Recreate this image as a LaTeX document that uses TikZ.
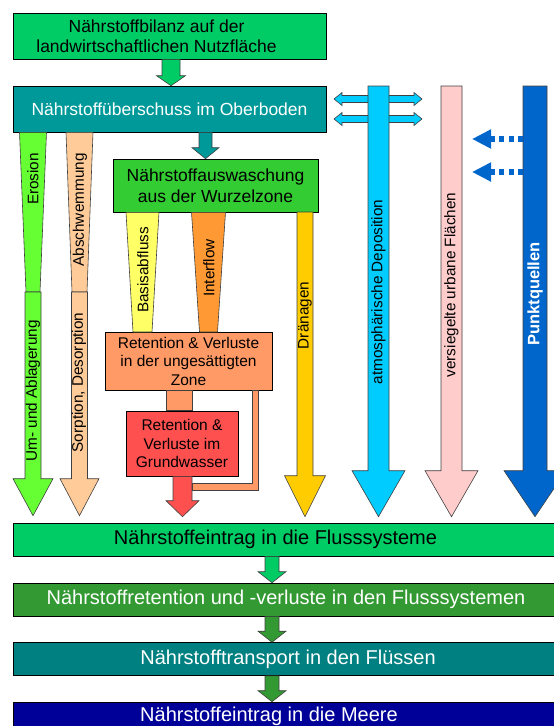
\documentclass[tikz,border=0pt]{standalone}
\usepackage{fontspec}
\setmainfont{Liberation Sans}
\usepackage{tikz}
\usetikzlibrary{arrows.meta,calc}
\definecolor{nbgreen}{RGB}{0,204,102}
\definecolor{nbteal}{RGB}{0,153,153}
\definecolor{nbleaf}{RGB}{51,204,51}
\definecolor{nberosion}{RGB}{102,255,51}
\definecolor{nbpeach}{RGB}{255,204,153}
\definecolor{nbyellow}{RGB}{255,255,102}
\definecolor{nborange}{RGB}{255,153,51}
\definecolor{nbsalmon}{RGB}{255,153,102}
\definecolor{nbred}{RGB}{255,80,80}
\definecolor{nbgold}{RGB}{255,204,0}
\definecolor{nbsky}{RGB}{0,204,255}
\definecolor{nbpink}{RGB}{255,204,204}
\definecolor{nbblue}{RGB}{0,102,204}
\definecolor{nbforest}{RGB}{51,153,51}
\definecolor{nbsea}{RGB}{0,128,128}
\definecolor{nbnavy}{RGB}{0,0,153}
\tikzset{
  fbox/.style={draw, line width=0.6pt, fill=#1, inner sep=0pt, align=center,
               font=\fontsize{17.5}{20}\selectfont},
  sbox/.style={draw, line width=0.6pt, fill=#1, inner sep=0pt, align=center,
               font=\fontsize{15.5}{18.5}\selectfont},
  rbox/.style={draw, line width=0.6pt, fill=#1, inner sep=0pt,
               minimum width=567pt, minimum height=33pt},
  rtext/.style={font=\fontsize{20}{24}\selectfont, text=#1},
  vtext/.style={rotate=90, inner sep=0pt, font=\fontsize{15.3}{18}\selectfont},
  flow/.style={draw=black!75, line width=0.6pt, fill=#1},
  block/.style n args={3}{to path={let \p1=(\tikztostart), \p2=(\tikztotarget) in
      (\x1-#1,\y1) -- (\x1-#1,\y2+#3) -- (\x1-#2,\y2+#3) -- (\x1,\y2)
      -- (\x1+#2,\y2+#3) -- (\x1+#1,\y2+#3) -- (\x1+#1,\y1) -- cycle}},
  taper/.style 2 args={to path={let \p1=(\tikztostart), \p2=(\tikztotarget) in
      (\x1-#1,\y1) -- (\x2-#2,\y2) -- (\x2+#2,\y2) -- (\x1+#1,\y1) -- cycle}},
  twoway/.style={to path={let \p1=(\tikztostart), \p2=(\tikztotarget) in
      (\x1,\y1) -- (\x1+8pt,\y1+6.5pt) -- (\x1+8pt,\y1+3.5pt) -- (\x2-8pt,\y1+3.5pt)
      -- (\x2-8pt,\y1+6.5pt) -- (\x2,\y1) -- (\x2-8pt,\y1-6.5pt) -- (\x2-8pt,\y1-3.5pt)
      -- (\x1+8pt,\y1-3.5pt) -- (\x1+8pt,\y1-6.5pt) -- cycle}},
  feed/.style={draw=nbblue, line width=5.5pt, dash pattern=on 5pt off 4.5pt,
               -{Triangle[length=19pt,width=18pt]}},
}
\begin{document}
\begin{tikzpicture}[x=1pt, y=-1pt]
\useasboundingbox (0,0) rectangle (554,726);
\clip (0,0) rectangle (554,726);

% Top: balance, topsoil surplus, root zone
\node[fbox=nbgreen, minimum width=313pt, minimum height=46pt] (bilanz) at (169.5,36)
  {\hspace*{-26pt}Nährstoffbilanz auf der\\\hspace*{-26pt}landwirtschaftlichen Nutzfläche};
\node[fbox=nbteal, text=white, minimum width=313pt, minimum height=46pt] (oberboden) at (169.5,109)
  {Nährstoffüberschuss im Oberboden};
\node[fbox=nbleaf, minimum width=205pt, minimum height=53pt, font=\fontsize{17.5}{21}\selectfont] (wurzel) at (215.5,185.5)
  {Nährstoffauswaschung\\aus der Wurzelzone};
\node[sbox=nbsalmon, minimum width=167pt, minimum height=58pt] (ungesaettigt) at (188.5,361)
  {Retention \& Verluste\\in der ungesättigten\\Zone};
\node[sbox=nbred, minimum width=112pt, minimum height=65pt] (grundwasser) at (182,443.5)
  {Retention \&\\Verluste im\\Grundwasser};

% Bottom chain
\node[rbox=nbgreen, label={[rtext=black, xshift=-21pt]center:Nährstoffeintrag in die Flusssysteme}] (eintrag) at (296.5,539.5) {};
\node[rbox=nbforest, label={[rtext=white, xshift=-10.5pt]center:Nährstoffretention und -verluste in den Flusssystemen}] (flussret) at (296.5,599.5) {};
\node[rbox=nbsea, label={[rtext=white, xshift=-8.5pt]center:Nährstofftransport in den Flüssen}] (transport) at (296.5,659) {};
\node[rbox=nbnavy, label={[rtext=white, xshift=-27.5pt, yshift=2.5pt]center:Nährstoffeintrag in die Meere}] (meere) at (296.5,718.5) {};

\coordinate (washx) at ([xshift=-10pt]wurzel.north);
\draw[flow=nbgreen, block={9pt}{14.5pt}{10pt}] ([xshift=1.5pt]bilanz.south) to ([xshift=1.5pt]oberboden.north);
\draw[flow=nbteal, block={6.5pt}{13.5pt}{11pt}] (washx |- oberboden.south) to (washx);

% Left: erosion and wash-off
\coordinate (ero) at (33,292);
\coordinate (absch) at (79.5,292);
\draw[flow=nberosion, taper={13.5pt}{7pt}] (oberboden.south -| ero) to (ero);
\draw[flow=nberosion, block={8pt}{20pt}{37pt}] (ero) to ([yshift=7pt]eintrag.north -| ero);
\draw[flow=nbpeach, taper={13.5pt}{7.5pt}] (oberboden.south -| absch) to (absch);
\draw[flow=nbpeach, block={8pt}{19.5pt}{37pt}] (absch) to ([yshift=7pt]eintrag.north -| absch);

% Middle: leaching paths
\coordinate (basis) at (142.5,332);
\coordinate (inter) at (208.5,332);
\coordinate (drain) at (305,212);
\draw[flow=nbyellow, taper={16.5pt}{9.5pt}] (wurzel.south -| basis) to (basis);
\draw[flow=nborange, taper={17pt}{9pt}] (wurzel.south -| inter) to (inter);
\draw[flow=nbgold, block={8pt}{20.5pt}{41pt}] (drain) to ([yshift=6pt]eintrag.north -| drain);
\draw[flow=nbsalmon, taper={13pt}{13pt}] ([xshift=-9.5pt]ungesaettigt.south) to ([xshift=-3pt]grundwasser.north);
\draw[flow=nbsalmon] ([xshift=-20pt]ungesaettigt.south east) -- ++(6,0) -- ++(0,100) -- ++(-66,0) -- ++(0,-7) -- ++(60,0) -- cycle;
\draw[flow=nbred, block={9.5pt}{16.5pt}{16pt}] ([xshift=0.5pt]grundwasser.south) to ([xshift=0.5pt, yshift=6pt]eintrag.north -| grundwasser.south);

% Right: deposition, urban areas, point sources
\coordinate (depo) at (378.5,86);
\coordinate (urban) at (451.5,86);
\coordinate (punkt) at (535,86);
\coordinate (dl1) at (334,99);
\coordinate (dr1) at (422,99);
\coordinate (dl2) at (334,119);
\coordinate (dr2) at (422,119);
\draw[flow=nbsky, twoway] (dl1) to (dr1);
\draw[flow=nbsky, twoway] (dl2) to (dr2);
\draw[flow=nbsky, block={10.5pt}{26.5pt}{46pt}] (depo) to ([yshift=6pt]eintrag.north -| depo);
\draw[flow=nbpink, block={10.5pt}{26.5pt}{46pt}] (urban) to ([yshift=6pt]eintrag.north -| urban);
\draw[flow=nbblue, block={12pt}{31pt}{46pt}] (punkt) to ([yshift=6pt]eintrag.north -| punkt);
\coordinate (pq1) at (523,139);
\coordinate (pq2) at (523,172);
\coordinate (ur1) at (472,139);
\coordinate (ur2) at (472,172);
\draw[feed] (pq1) -- (ur1);
\draw[feed] (pq2) -- (ur2);

% Bottom chain arrows
\coordinate (chain) at (272,0);
\draw[flow=nbgreen, block={7pt}{14pt}{11pt}] (chain |- eintrag.south) to (chain |- flussret.north);
\draw[flow=nbforest, block={7pt}{14pt}{11pt}] (chain |- flussret.south) to (chain |- transport.north);
\draw[flow=nbforest, block={7pt}{14pt}{11pt}] (chain |- transport.south) to (chain |- meere.north);

% Labels on the flows
\node[vtext] (erosion) at (33,179) {Erosion};
\node[vtext] (umlager) at (33,391) {Um- und Ablagerung};
\node[vtext] (abschw) at (80,210) {Abschwemmung};
\node[vtext] (sorption) at (79,382.5) {Sorption, Desorption};
\node[vtext] (basislbl) at (143,270) {Basisabfluss};
\node[vtext] (interlbl) at (209,268) {Interflow};
\node[vtext] (drainlbl) at (305,315.5) {Dränagen};
\node[vtext] (depolbl) at (378.5,292) {atmosphärische Deposition};
\node[vtext] (urbanlbl) at (451.5,285) {versiegelte urbane Flächen};
\node[vtext, text=white, font=\bfseries\fontsize{16.5}{20}\selectfont] (punktlbl) at (535,294) {Punktquellen};
\end{tikzpicture}
\end{document}
